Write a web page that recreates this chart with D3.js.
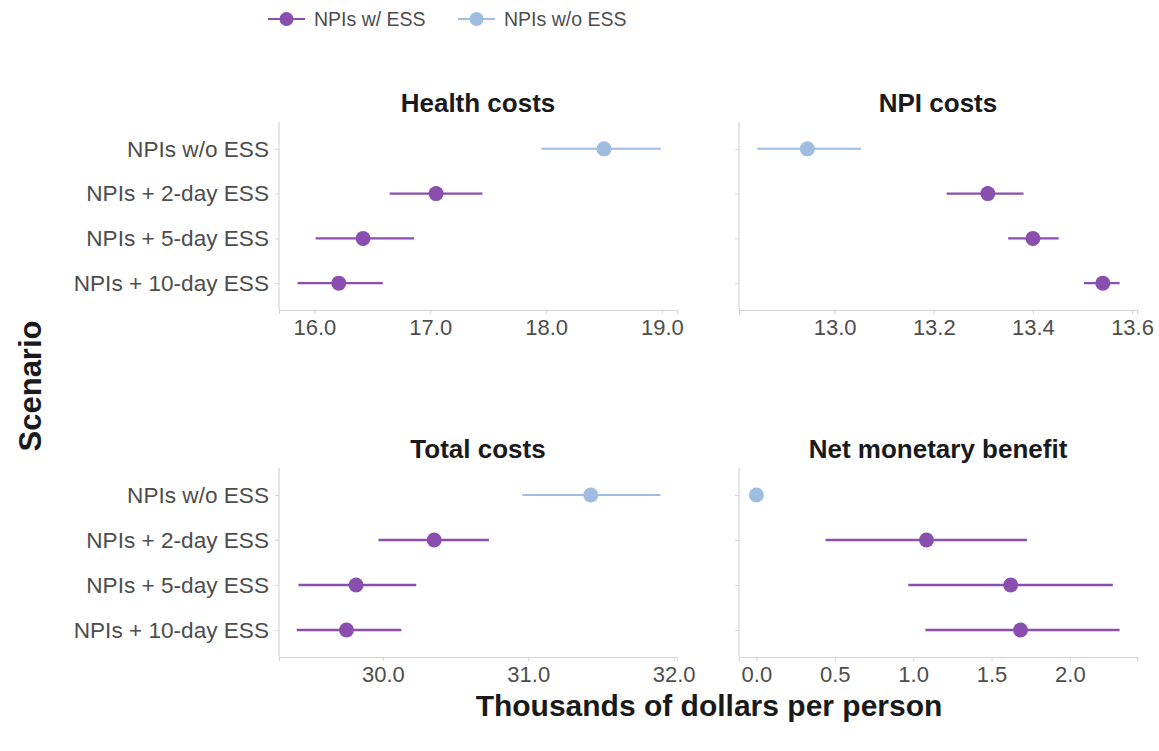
<!DOCTYPE html>
<html>
<head>
<meta charset="utf-8">
<script src="https://cdn.jsdelivr.net/npm/d3@7"></script>
<style>
  html, body { margin: 0; padding: 0; background: #fff; }
  svg { display: block; font-family: "Liberation Sans", Arial, sans-serif; }
</style>
</head>
<body>
<svg id="chart" width="1159" height="751"></svg>
<script>
// Scenarios, top to bottom
const scenarios = ["NPIs w/o ESS", "NPIs + 2-day ESS", "NPIs + 5-day ESS", "NPIs + 10-day ESS"];
const groups = ["NPIs w/o ESS", "NPIs w/ ESS", "NPIs w/ ESS", "NPIs w/ ESS"];

// Point estimates and 95% intervals, thousands of dollars per person
const healthMean = [18.50, 17.05, 16.42, 16.21];
const healthLow  = [17.96, 16.65, 16.01, 15.855];
const healthHigh = [18.99, 17.45, 16.86, 16.59];

const npiMean = [12.945, 13.309, 13.400, 13.541];
const npiLow  = [12.844, 13.226, 13.350, 13.503];
const npiHigh = [13.053, 13.381, 13.452, 13.575];

const totalMean = [31.43, 30.353, 29.816, 29.75];
const totalLow  = [30.96, 29.97, 29.42, 29.408];
const totalHigh = [31.91, 30.73, 30.23, 30.127];

const nmbMean = [0.0, 1.085, 1.622, 1.685];
const nmbLow  = [0.0, 0.441, 0.969, 1.078];
const nmbHigh = [0.0, 1.727, 2.274, 2.317];

const healthTicks = [16, 17, 18, 19];
const npiTicks = [13.0, 13.2, 13.4, 13.6];
const totalTicks = [30, 31, 32];
const nmbTicks = [0.0, 0.5, 1.0, 1.5, 2.0];

const legendItems = ["NPIs w/ ESS", "NPIs w/o ESS"];
const colors = { "NPIs w/ ESS": "#8a4fae", "NPIs w/o ESS": "#9ebde0" };

const panels = [
  { title: "Health costs", mean: healthMean, low: healthLow, high: healthHigh, ticks: healthTicks, domain: [15.694, 19.13],
    x0: 279, x1: 677, y0: 122, y1: 310, showY: true },
  { title: "NPI costs", mean: npiMean, low: npiLow, high: npiHigh, ticks: npiTicks, domain: [12.807, 13.61],
    x0: 739, x1: 1137, y0: 122, y1: 310, showY: false },
  { title: "Total costs", mean: totalMean, low: totalLow, high: totalHigh, ticks: totalTicks, domain: [29.286, 32.023],
    x0: 279, x1: 677, y0: 468, y1: 657, showY: true },
  { title: "Net monetary benefit", mean: nmbMean, low: nmbLow, high: nmbHigh, ticks: nmbTicks, domain: [-0.111, 2.428],
    x0: 739, x1: 1137, y0: 468, y1: 657, showY: false }
];

const svg = d3.select("#chart");
const axisColor = "#d4d4d4";
const textColor = "#4d4d4d";

panels.forEach(p => {
  const x = d3.scaleLinear().domain(p.domain).range([p.x0, p.x1]);
  const y = d3.scalePoint().domain(scenarios).range([p.y0, p.y1]).padding(0.6);
  const g = svg.append("g");

  // x axis
  const xa = g.append("g").attr("transform", `translate(0,${p.y1})`)
    .call(d3.axisBottom(x).tickValues(p.ticks).tickSize(4).tickPadding(5).tickFormat(d3.format(".1f")));
  xa.select(".domain").attr("stroke", axisColor).attr("stroke-width", 1.2);
  xa.selectAll(".tick line").attr("stroke", axisColor);
  xa.selectAll(".tick text").attr("fill", textColor).style("font-size", "22px");

  // y axis
  const ya = g.append("g").attr("transform", `translate(${p.x0},0)`)
    .call(d3.axisLeft(y).tickSize(4).tickPadding(6).tickFormat(p.showY ? null : () => ""));
  ya.select(".domain").attr("stroke", axisColor).attr("stroke-width", 1.2)
    .attr("d", `M0,${p.y0}V${p.y1}`);
  ya.selectAll(".tick line").attr("stroke", axisColor);
  ya.selectAll(".tick text").attr("fill", textColor).style("font-size", "22.6px");

  // title
  g.append("text")
    .attr("x", (p.x0 + p.x1) / 2).attr("y", p.y0 - 10)
    .attr("text-anchor", "middle")
    .style("font-size", "26px").style("font-weight", "bold").attr("fill", "#1a1a1a")
    .text(p.title);

  const rows = scenarios.map((s, i) => ({ s, grp: groups[i], m: p.mean[i], lo: p.low[i], hi: p.high[i] }));

  // interval lines
  g.selectAll("line.ci").data(rows).join("line")
    .attr("class", "ci")
    .attr("x1", d => x(d.lo)).attr("x2", d => x(d.hi))
    .attr("y1", d => y(d.s)).attr("y2", d => y(d.s))
    .attr("stroke", d => colors[d.grp])
    .attr("stroke-width", d => d.grp === "NPIs w/ ESS" ? 2.4 : 2);

  // point estimates
  g.selectAll("circle.pt").data(rows).join("circle")
    .attr("class", "pt")
    .attr("cx", d => x(d.m)).attr("cy", d => y(d.s))
    .attr("r", 7.5)
    .attr("fill", d => colors[d.grp]);
});

// axis titles
svg.append("text")
  .attr("x", 709).attr("y", 716)
  .attr("text-anchor", "middle")
  .style("font-size", "30px").style("font-weight", "bold").attr("fill", "#1a1a1a")
  .text("Thousands of dollars per person");

svg.append("text")
  .attr("transform", "translate(41,386) rotate(-90)")
  .attr("text-anchor", "middle")
  .style("font-size", "31px").style("font-weight", "bold").attr("fill", "#1a1a1a")
  .text("Scenario");

// legend
const legend = svg.append("g");
const legendX = [268, 458];
legendItems.forEach((name, i) => {
  const lg = legend.append("g").attr("transform", `translate(${legendX[i]},19)`);
  lg.append("line").attr("x1", 0).attr("x2", 37).attr("y1", 0).attr("y2", 0)
    .attr("stroke", colors[name]).attr("stroke-width", 2);
  lg.append("circle").attr("cx", 18.5).attr("cy", 0).attr("r", 7).attr("fill", colors[name]);
  lg.append("text").attr("x", 46).attr("y", 0).attr("dy", "0.35em")
    .style("font-size", "19.5px").attr("fill", textColor).text(name);
});
</script>
</body>
</html>
